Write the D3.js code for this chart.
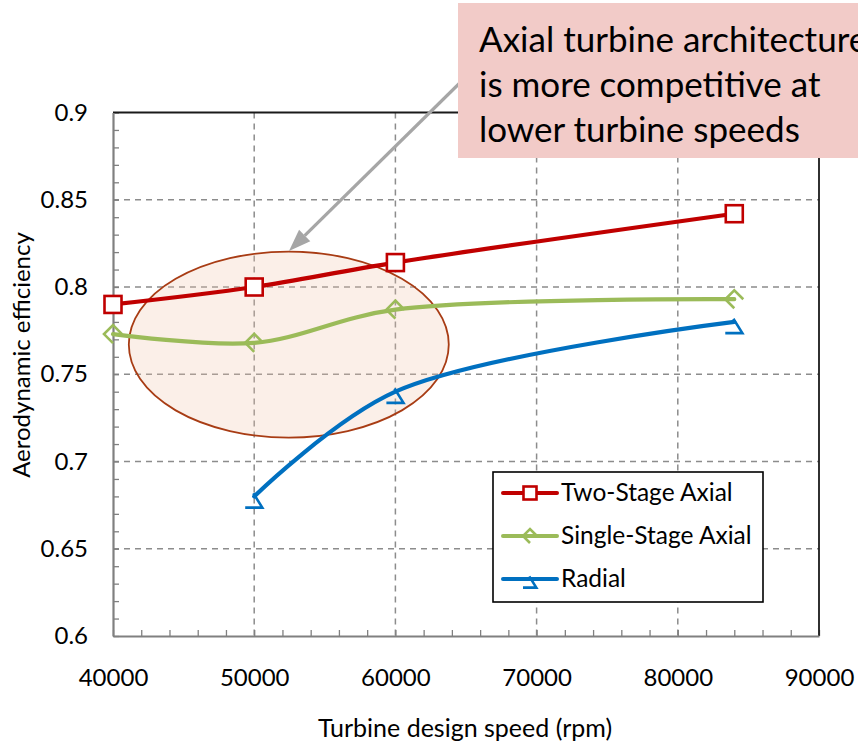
<!DOCTYPE html>
<html>
<head>
<meta charset="utf-8">
<script src="https://cdn.jsdelivr.net/npm/d3@7"></script>
<style>
  html, body { margin: 0; padding: 0; background: #fff; }
  svg { display: block; font-family: Lato, "Noto Sans", sans-serif; }
</style>
</head>
<body>
<svg id="chart" width="858" height="744"></svg>
<script>
// Turbine design speed (rpm) at which each architecture was evaluated
const twoStageSpeeds = [40000, 50000, 60000, 84000];
const twoStageEff = [0.790, 0.800, 0.814, 0.842];

const singleStageSpeeds = [40000, 50000, 60000, 84000];
const singleStageEff = [0.773, 0.768, 0.787, 0.793];

const radialSpeeds = [50000, 60000, 84000];
const radialEff = [0.680, 0.740, 0.780];

const seriesNames = ["Two-Stage Axial", "Single-Stage Axial", "Radial"];
const xTicks = [40000, 50000, 60000, 70000, 80000, 90000];
const yTicks = [0.6, 0.65, 0.7, 0.75, 0.8, 0.85, 0.9];
const yTickLabels = ["0.6", "0.65", "0.7", "0.75", "0.8", "0.85", "0.9"];

const xTitle = "Turbine design speed (rpm)";
const yTitle = "Aerodynamic efficiency";
const calloutLines = ["Axial turbine architecture", "is more competitive at", "lower turbine speeds"];

// Highlighted region (centre speed, centre efficiency, half-widths)
const highlightCentre = [52450, 0.767];
const highlightHalf = [11330, 0.0533];

const svg = d3.select("#chart");
const plotLeft = 113, plotRight = 819, plotTop = 112.5, plotBottom = 636;
const x = d3.scaleLinear().domain([40000, 90000]).range([plotLeft, plotRight]);
const y = d3.scaleLinear().domain([0.6, 0.9]).range([plotBottom, plotTop]);

const colors = { red: "#c00000", green: "#9bbb59", blue: "#0070c0" };

// Dashed major gridlines
const grid = svg.append("g");
grid.selectAll("line.vx").data(xTicks.slice(1, -1)).join("line")
  .attr("x1", d => x(d)).attr("x2", d => x(d))
  .attr("y1", plotTop).attr("y2", plotBottom)
  .attr("stroke", "#8c8c8c").attr("stroke-width", 1.5).attr("stroke-dasharray", "6,5");
grid.selectAll("line.hy").data(yTicks.slice(1, -1)).join("line")
  .attr("x1", plotLeft).attr("x2", plotRight)
  .attr("y1", d => y(d)).attr("y2", d => y(d))
  .attr("stroke", "#8c8c8c").attr("stroke-width", 1.5).attr("stroke-dasharray", "6,5");

// Minor ticks pointing into the plot
const yMinor = d3.range(0.6, 0.9001, 0.01);
const xMinor = d3.range(40000, 90001, 2000);
svg.append("g").attr("transform", `translate(${plotLeft},0)`)
  .call(d3.axisRight(y).tickValues(yMinor).tickSize(6).tickFormat(""))
  .call(g => g.select(".domain").remove())
  .call(g => g.selectAll("line").attr("stroke", "#808080").attr("stroke-width", 1.3));
svg.append("g").attr("transform", `translate(0,${plotBottom})`)
  .call(d3.axisTop(x).tickValues(xMinor).tickSize(6).tickFormat(""))
  .call(g => g.select(".domain").remove())
  .call(g => g.selectAll("line").attr("stroke", "#808080").attr("stroke-width", 1.3));

// Highlight ellipse
svg.append("ellipse")
  .attr("cx", x(highlightCentre[0])).attr("cy", y(highlightCentre[1]))
  .attr("rx", x(highlightCentre[0] + highlightHalf[0]) - x(highlightCentre[0]))
  .attr("ry", y(highlightCentre[1] - highlightHalf[1]) - y(highlightCentre[1]))
  .attr("fill", "#f2c4ae").attr("fill-opacity", 0.28)
  .attr("stroke", "#a83c14").attr("stroke-width", 1.8);

// Plot frame: grey axes left/bottom, dark top/right
svg.append("line").attr("x1", plotLeft).attr("x2", plotRight).attr("y1", plotTop).attr("y2", plotTop)
  .attr("stroke", "#1a1a1a").attr("stroke-width", 1.8);
svg.append("line").attr("x1", plotRight).attr("x2", plotRight).attr("y1", plotTop).attr("y2", plotBottom)
  .attr("stroke", "#1a1a1a").attr("stroke-width", 1.8);

// Axes with labels
svg.append("g").attr("transform", `translate(${plotLeft},0)`)
  .call(d3.axisLeft(y).tickValues(yTicks).tickSize(0).tickPadding(25)
    .tickFormat((d, i) => yTickLabels[i]))
  .call(g => g.select(".domain").attr("stroke", "#808080").attr("stroke-width", 2.2))
  .call(g => g.selectAll("text").attr("font-size", 24).attr("fill", "#000").attr("font-family", "Lato"));
svg.append("g").attr("transform", `translate(0,${plotBottom})`)
  .call(d3.axisBottom(x).tickValues(xTicks).tickSize(0).tickPadding(33).tickFormat(d3.format("d")))
  .call(g => g.select(".domain").attr("stroke", "#808080").attr("stroke-width", 2.2))
  .call(g => g.selectAll("text").attr("font-size", 24).attr("fill", "#000").attr("font-family", "Lato"));

// Axis titles
svg.append("text").attr("x", 465).attr("y", 737)
  .attr("text-anchor", "middle").attr("font-size", 25).text(xTitle);
svg.append("text").attr("transform", "translate(30,355) rotate(-90)")
  .attr("text-anchor", "middle").attr("font-size", 24).text(yTitle);

// Series
const smooth = d3.line().x(d => x(d[0])).y(d => y(d[1])).curve(d3.curveCatmullRom.alpha(0.5));
const twoStage = twoStageSpeeds.map((s, i) => [s, twoStageEff[i]]);
const singleStage = singleStageSpeeds.map((s, i) => [s, singleStageEff[i]]);
const radial = radialSpeeds.map((s, i) => [s, radialEff[i]]);

// Marker shapes (Excel-style hollow markers)
const squareMarker = (g, s) => g.append("rect").attr("x", -s / 2).attr("y", -s / 2)
  .attr("width", s).attr("height", s).attr("fill", "#fff")
  .attr("stroke", colors.red).attr("stroke-width", 2.6);
const diamondMarker = (g, s) => g.append("path")
  .attr("d", `M0,${s} L${-s},0 L0,${-s} L${s},0`)
  .attr("fill", "none").attr("stroke", colors.green).attr("stroke-width", 2.6);
const triangleMarker = (g, s) => g.append("path")
  .attr("d", `M${-s},${s * 0.8} L${s * 0.9},${s * 0.8} L${-s * 0.1},${-s * 0.8}`)
  .attr("fill", "none").attr("stroke", colors.blue).attr("stroke-width", 2.6);

function drawSeries(data, color, marker, size, markerDy) {
  svg.append("path").datum(data).attr("d", smooth)
    .attr("fill", "none").attr("stroke", color).attr("stroke-width", 4.2)
    .attr("stroke-linecap", "round");
  data.forEach(d => {
    const g = svg.append("g").attr("transform", `translate(${x(d[0])},${y(d[1]) + markerDy})`);
    marker(g, size);
  });
}
drawSeries(twoStage, colors.red, squareMarker, 17, 0);
drawSeries(singleStage, colors.green, diamondMarker, 9, 0);
drawSeries(radial, colors.blue, triangleMarker, 9, 4);

// Legend
const legend = svg.append("g");
legend.append("rect").attr("x", 493).attr("y", 472).attr("width", 270).attr("height", 130)
  .attr("fill", "#fff").attr("stroke", "#000").attr("stroke-width", 1.6);
const legendMarkers = [[colors.red, squareMarker, 13, 0], [colors.green, diamondMarker, 7, 0], [colors.blue, triangleMarker, 7, 3]];
seriesNames.forEach((name, i) => {
  const cy = 493 + i * 43;
  legend.append("line").attr("x1", 503).attr("x2", 557).attr("y1", cy).attr("y2", cy)
    .attr("stroke", legendMarkers[i][0]).attr("stroke-width", 4).attr("stroke-linecap", "round");
  const g = legend.append("g").attr("transform", `translate(530,${cy + legendMarkers[i][3]})`);
  legendMarkers[i][1](g, legendMarkers[i][2]);
  legend.append("text").attr("x", 561).attr("y", cy + 8).attr("font-size", 24.5).text(name);
});

// Callout arrow
const arrowStart = [475, 68], arrowTip = [289, 251];
const ang = Math.atan2(arrowTip[1] - arrowStart[1], arrowTip[0] - arrowStart[0]);
const headLen = 22, headW = 8;
const base = [arrowTip[0] - headLen * Math.cos(ang), arrowTip[1] - headLen * Math.sin(ang)];
svg.append("line").attr("x1", arrowStart[0]).attr("y1", arrowStart[1])
  .attr("x2", base[0]).attr("y2", base[1]).attr("stroke", "#a6a6a6").attr("stroke-width", 3.2);
svg.append("path").attr("d", `M${arrowTip[0]},${arrowTip[1]}
  L${base[0] + headW * Math.sin(ang)},${base[1] - headW * Math.cos(ang)}
  L${base[0] - headW * Math.sin(ang)},${base[1] + headW * Math.cos(ang)}Z`)
  .attr("fill", "#a6a6a6");

// Callout box (runs off the right edge of the figure)
svg.append("rect").attr("x", 458).attr("y", 3).attr("width", 420).attr("height", 155)
  .attr("fill", "#f2cbc8");
const callout = svg.append("text").attr("font-size", 35).attr("fill", "#000");
calloutLines.forEach((t, i) => {
  callout.append("tspan").attr("x", 479).attr("y", 52 + i * 45).text(t);
});
</script>
</body>
</html>
